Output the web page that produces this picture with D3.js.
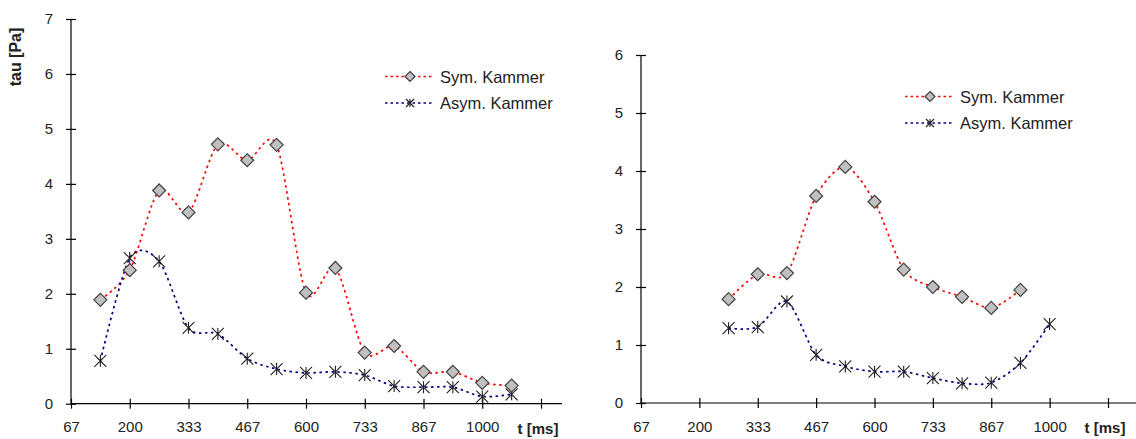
<!DOCTYPE html>
<html><head><meta charset="utf-8">
<script src="https://cdn.jsdelivr.net/npm/d3@7"></script>
<style>
html,body{margin:0;padding:0;background:#fff;}
svg{display:block;font-family:"Liberation Sans",Arial,sans-serif;}
</style></head>
<body>
<svg id="c" width="1136" height="439"></svg>
<script>
// ---- data ----
const xTickValues = [66.67, 200, 333.33, 466.67, 600, 733.33, 866.67, 1000, 1133.33];
const xTickLabels = ["67", "200", "333", "467", "600", "733", "867", "1000", ""];
const tLeft = [133.3, 200, 266.7, 333.3, 400, 466.7, 533.3, 600, 666.7, 733.3, 800, 866.7, 933.3, 1000, 1066.7];
const symLeft = [1.89, 2.43, 3.88, 3.48, 4.72, 4.43, 4.71, 2.02, 2.47, 0.93, 1.05, 0.58, 0.58, 0.38, 0.33];
const asymLeft = [0.78, 2.65, 2.59, 1.38, 1.27, 0.82, 0.63, 0.56, 0.58, 0.52, 0.32, 0.30, 0.30, 0.13, 0.17];
const tRightSym = [266.7, 333.3, 400, 466.7, 533.3, 600, 666.7, 733.3, 800, 866.7, 933.3];
const symRight = [1.79, 2.22, 2.24, 3.57, 4.07, 3.47, 2.30, 2.00, 1.83, 1.64, 1.95];
const tRightAsym = [266.7, 333.3, 400, 466.7, 533.3, 600, 666.7, 733.3, 800, 866.7, 933.3, 1000];
const asymRight = [1.29, 1.31, 1.75, 0.83, 0.63, 0.54, 0.54, 0.43, 0.34, 0.35, 0.69, 1.36];
const yTicksLeft = [0, 1, 2, 3, 4, 5, 6, 7];
const yTicksRight = [0, 1, 2, 3, 4, 5, 6];
const seriesNames = ["Sym. Kammer", "Asym. Kammer"];
const yTitle = "tau [Pa]";
const xTitle = "t [ms]";

const svg = d3.select("#c");
const RED = "#ff0000", BLUE = "#000080";
const DASH = "2.5,3.5";

function diamond(g, x, y) {
  const s = 6.5;
  g.append("path")
    .attr("d", `M${x},${y - s}L${x + s},${y}L${x},${y + s}L${x - s},${y}Z`)
    .attr("fill", "#c0c0c0").attr("stroke", "#404040").attr("stroke-width", 1.2);
}
function star(g, x, y) {
  const s = 6;
  g.append("path")
    .attr("d", `M${x - s},${y - s}L${x + s},${y + s}M${x - s},${y + s}L${x + s},${y - s}M${x},${y - s}L${x},${y + s}`)
    .attr("stroke", "#202020").attr("stroke-width", 1.1).attr("fill", "none");
}

function panel(opt) {
  const g = svg.append("g");
  const x = d3.scaleLinear().domain([66.67, 1133.33]).range([opt.x0, opt.x1]);
  const y = d3.scaleLinear().domain([0, opt.ymax]).range([opt.y0, opt.y1]);

  // axes
  const xAxis = d3.axisBottom(x).tickValues(xTickValues)
    .tickFormat((d, i) => xTickLabels[i]).tickSizeInner(5).tickSizeOuter(0).tickPadding(13);
  const gx = g.append("g").attr("transform", `translate(0,${opt.y0})`).call(xAxis);
  gx.select(".domain").remove();
  gx.append("line").attr("x1", opt.x0).attr("x2", opt.xEnd).attr("stroke", "#000").attr("stroke-width", 1.2);
  gx.selectAll(".tick line").attr("y1", -5).attr("y2", 5).attr("stroke", "#000").attr("stroke-width", 1.2);
  gx.selectAll(".tick text").attr("font-size", 15).attr("fill", "#222")
    .attr("font-family", '"Liberation Sans",Arial,sans-serif');

  const yAxis = d3.axisLeft(y).tickValues(opt.yTicks).tickFormat(d3.format("d"))
    .tickSizeInner(5).tickSizeOuter(0).tickPadding(13);
  const gy = g.append("g").attr("transform", `translate(${opt.x0},0)`).call(yAxis);
  gy.select(".domain").attr("stroke", "#000").attr("stroke-width", 1.2).attr("d", `M0,${opt.y0}V${opt.y1}`);
  gy.selectAll(".tick line").attr("x1", -5).attr("x2", 5).attr("stroke", "#000").attr("stroke-width", 1.2);
  gy.selectAll(".tick text").attr("font-size", 15).attr("fill", "#222")
    .attr("font-family", '"Liberation Sans",Arial,sans-serif');

  // x title
  g.append("text").attr("x", x(1133.33) - 3).attr("y", opt.y0 + 30)
    .attr("text-anchor", "middle").attr("font-size", 15).attr("font-weight", "bold")
    .attr("fill", "#222").text(xTitle);

  const line = d3.line().curve(d3.curveCardinal.tension(0.15)).x(d => x(d[0])).y(d => y(d[1]));
  const symD = opt.tSym.map((t, i) => [t, opt.sym[i]]);
  const asymD = opt.tAsym.map((t, i) => [t, opt.asym[i]]);
  g.append("path").attr("d", line(symD)).attr("fill", "none").attr("stroke", RED)
    .attr("stroke-width", 1.7).attr("stroke-dasharray", DASH);
  g.append("path").attr("d", line(asymD)).attr("fill", "none").attr("stroke", BLUE)
    .attr("stroke-width", 1.7).attr("stroke-dasharray", DASH);
  asymD.forEach(d => star(g, x(d[0]), y(d[1])));
  symD.forEach(d => diamond(g, x(d[0]), y(d[1])));

  // legend
  const lg = g.append("g").attr("transform", `translate(${opt.lx},${opt.ly})`);
  [[RED, diamond], [BLUE, star]].forEach((s, i) => {
    const yy = i * 26.5;
    lg.append("line").attr("x1", 0).attr("x2", 47).attr("y1", yy).attr("y2", yy)
      .attr("stroke", s[0]).attr("stroke-width", 1.5).attr("stroke-dasharray", "2.5,3");
    if (i === 0) {
      const gg = lg.append("g"); diamond(gg, 25, yy);
      gg.select("path").attr("d", `M25,${yy - 5}L30,${yy}L25,${yy + 5}L20,${yy}Z`);
    } else {
      const gg = lg.append("g");
      gg.append("path").attr("d", `M21,${yy - 4}L29,${yy + 4}M21,${yy + 4}L29,${yy - 4}M25,${yy - 4}L25,${yy + 4}`)
        .attr("stroke", "#202020").attr("stroke-width", 1.1);
    }
    lg.append("text").attr("x", 55).attr("y", yy + 6).attr("font-size", 16.5).attr("fill", "#222")
      .text(seriesNames[i]);
  });
  return g;
}

panel({x0: 71, x1: 541, xEnd: 562, y0: 403.7, y1: 19, ymax: 7, yTicks: yTicksLeft,
  tSym: tLeft, sym: symLeft, tAsym: tLeft, asym: asymLeft, lx: 385, ly: 76.5});
panel({x0: 641, x1: 1108, xEnd: 1136, y0: 403, y1: 55, ymax: 6, yTicks: yTicksRight,
  tSym: tRightSym, sym: symRight, tAsym: tRightAsym, asym: asymRight, lx: 905, ly: 96.5});

// y title (left only)
svg.append("text").attr("transform", "translate(21,57) rotate(-90)")
  .attr("text-anchor", "middle").attr("font-size", 16).attr("font-weight", "bold")
  .attr("fill", "#222").text(yTitle);
</script>
</body></html>
